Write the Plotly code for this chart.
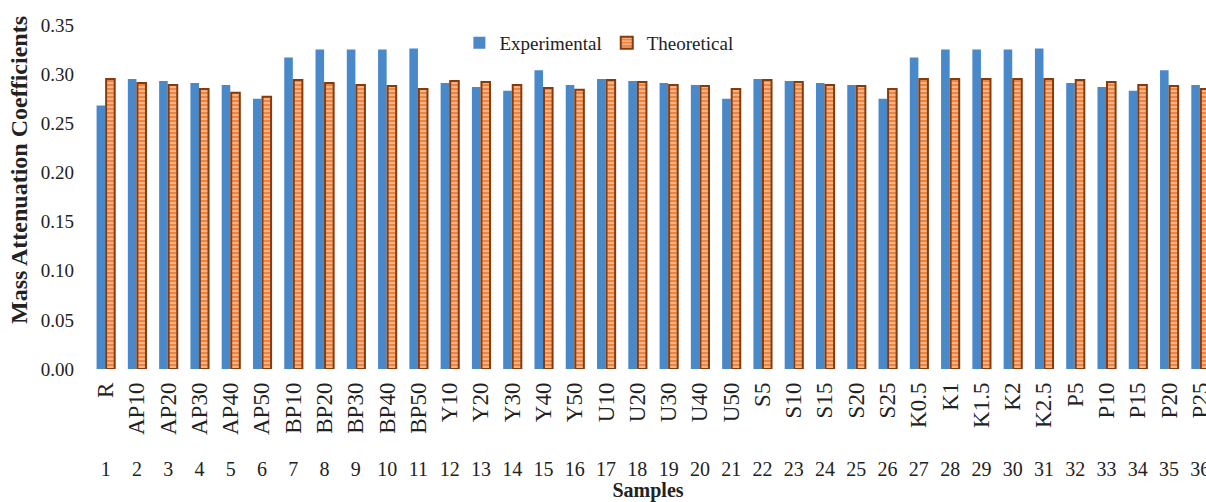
import plotly.graph_objects as go

samples = ["R", "AP10", "AP20", "AP30", "AP40", "AP50", "BP10", "BP20", "BP30", "BP40",
           "BP50", "Y10", "Y20", "Y30", "Y40", "Y50", "U10", "U20", "U30", "U40",
           "U50", "S5", "S10", "S15", "S20", "S25", "K0.5", "K1", "K1.5", "K2",
           "K2.5", "P5", "P10", "P15", "P20", "P25"]
sample_no = [1, 2, 3, 4, 5, 6, 7, 8, 9, 10, 11, 12, 13, 14, 15, 16, 17, 18,
             19, 20, 21, 22, 23, 24, 25, 26, 27, 28, 29, 30, 31, 32, 33, 34, 35, 36]
experimental = [0.268, 0.295, 0.293, 0.291, 0.289, 0.275, 0.317, 0.325, 0.325, 0.325,
                0.326, 0.291, 0.287, 0.283, 0.304, 0.289, 0.295, 0.293, 0.291, 0.289,
                0.275, 0.295, 0.293, 0.291, 0.289, 0.275, 0.317, 0.325, 0.325, 0.325,
                0.326, 0.291, 0.287, 0.283, 0.304, 0.289]
theoretical = [0.295, 0.291, 0.289, 0.285, 0.281, 0.277, 0.294, 0.291, 0.289, 0.288,
               0.285, 0.293, 0.292, 0.289, 0.286, 0.284, 0.294, 0.292, 0.289, 0.288,
               0.285, 0.294, 0.292, 0.289, 0.288, 0.285, 0.295, 0.295, 0.295, 0.295,
               0.295, 0.294, 0.292, 0.289, 0.288, 0.285]
y_ticks = [0.00, 0.05, 0.10, 0.15, 0.20, 0.25, 0.30, 0.35]

FONT = "Liberation Serif, Times New Roman, serif"
XR = [0.5, 36.18]

fig = go.Figure()
fig.add_trace(go.Bar(
    x=sample_no, y=experimental, name="Experimental",
    marker=dict(color="#4A89C9", line=dict(width=0)),
))
fig.add_trace(go.Bar(
    x=sample_no, y=theoretical, name="Theoretical",
    marker=dict(
        color="#ED7D31",
        line=dict(color="#843C0C", width=2),
        pattern=dict(shape="-", fillmode="replace", bgcolor="#EE8440",
                     fgcolor="#F6B88E", size=4, solidity=0.45),
    ),
))
# helper (invisible) trace so the number axis is drawn
fig.add_trace(go.Scatter(x=sample_no, y=experimental, xaxis="x2", mode="none",
                         showlegend=False, hoverinfo="skip"))

fig.update_layout(
    width=1206, height=502,
    margin=dict(l=90, r=0, t=25, b=133, autoexpand=False),
    paper_bgcolor="white", plot_bgcolor="white",
    barmode="group", bargap=0.39, bargroupgap=0.1,
    font=dict(family=FONT, size=19, color="#222222"),
    showlegend=True,
    legend=dict(orientation="h", x=0.456, xanchor="center", y=0.948, yanchor="middle",
                font=dict(family=FONT, size=19, color="#222222"),
                bgcolor="rgba(0,0,0,0)", itemwidth=30, traceorder="normal"),
    xaxis=dict(range=XR, tickmode="array", tickvals=sample_no, ticktext=samples,
               tickangle=-90, showgrid=False, zeroline=False, showline=False,
               ticks="", ticklabelstandoff=8, ticklabeloverflow="allow", automargin=False,
               tickfont=dict(family=FONT, size=23, color="#222222")),
    xaxis2=dict(range=XR, overlaying="x", anchor="free", position=0, side="bottom",
                tickmode="array", tickvals=sample_no, ticktext=[str(n) for n in sample_no],
                showgrid=False, zeroline=False, showline=False, ticks="",
                ticklabelstandoff=86, ticklabeloverflow="allow", automargin=False,
                tickfont=dict(family=FONT, size=20, color="#222222"),
                title=dict(text="<b>Samples</b>", standoff=2,
                           font=dict(family=FONT, size=20, color="#222222"))),
    yaxis=dict(range=[0, 0.35], tickmode="array", tickvals=y_ticks,
               ticktext=[f"{v:.2f}" for v in y_ticks],
               showgrid=False, zeroline=False, showline=False, ticks="",
               ticklabelstandoff=15, automargin=False,
               tickfont=dict(family=FONT, size=19, color="#222222")),
    annotations=[dict(text="<b>Mass Attenuation Coefficients</b>", textangle=-90,
                      xref="paper", yref="paper", x=0, y=0.125,
                      xanchor="center", yanchor="bottom", xshift=-71, showarrow=False,
                      font=dict(family=FONT, size=24, color="#222222"))],
)

fig.write_html("out.html", config={"displayModeBar": False},
               post_script="document.body.style.margin='0px';")
